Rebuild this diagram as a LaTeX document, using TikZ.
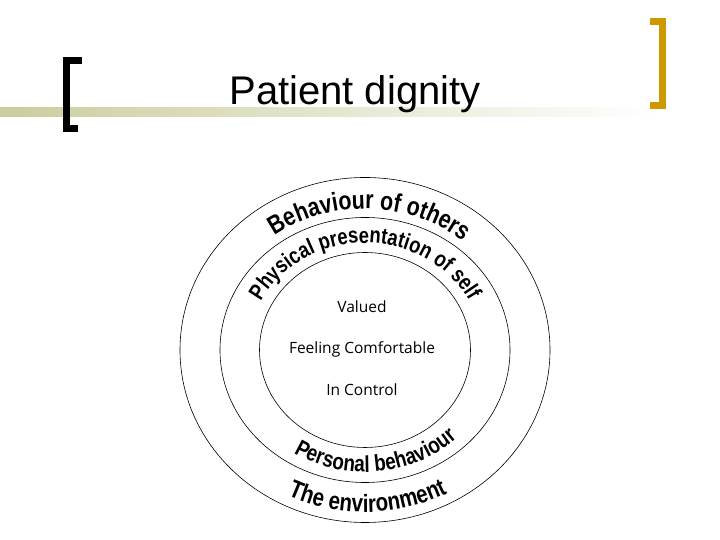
\documentclass[tikz,border=0pt]{standalone}
\usepackage{fontspec}
\setmainfont{Liberation Sans}
\newfontfamily\labelfont{Open Sans}
\newfontfamily\narrowfont[FakeStretch=0.82]{Liberation Sans}
\usetikzlibrary{shapes.geometric, positioning, decorations.text}

\definecolor{barkhaki}{RGB}{204,204,158}
\definecolor{bracketgold}{RGB}{204,153,0}

\newcommand\toparc{\narrowfont\bfseries\fontsize{26}{26}\selectfont}
\newcommand\midarc{\narrowfont\bfseries\fontsize{22.5}{22.5}\selectfont}
\newcommand\lowarc{\narrowfont\bfseries\fontsize{23}{23}\selectfont}
\newcommand\basearc{\narrowfont\bfseries\fontsize{25}{25}\selectfont}

\begin{document}
\begin{tikzpicture}[x=1pt, y=1pt,
        ring/.style={ellipse, draw, line width=0.6pt, inner sep=0pt},
        core/.style={font=\labelfont\fontsize{15.5}{15.5}\selectfont, text height=11pt, text depth=3pt, inner sep=2pt},
        arctext/.style={decorate, decoration={text along path, text align=center, text={#1}}}
    ]
    \useasboundingbox (0,0) rectangle (720,540);

    % Title bar and brackets
    \shade[left color=barkhaki, right color=white] (0,423) rectangle (660,432);
    \fill (63,408) rectangle (70,483);
    \fill (63,476) rectangle (82,483);
    \fill (63,408) rectangle (78,415);
    \fill[bracketgold] (659,431) rectangle (666,522);
    \fill[bracketgold] (650,515) rectangle (666,522);
    \fill[bracketgold] (650,431) rectangle (666,438);
    \node[font=\fontsize{40}{40}\selectfont, anchor=base] (title) at (355,435) {Patient dignity};

    % Rings
    \coordinate (ctr) at (365,190);
    \node[ring, minimum width=370pt, minimum height=345pt] (outer) at (ctr) {};
    \node[ring, minimum width=290pt, minimum height=265pt] (middle) at (ctr) {};
    \node[ring, minimum width=211pt, minimum height=195pt] (core) at (ctr) {};

    % Centre labels
    \node[core] (comfort) at (362,190) {Feeling Comfortable};
    \node[core, above=23pt of comfort] (valued) {Valued};
    \node[core, below=23pt of comfort] (control) {In Control};

    % Curved labels
    \path[arctext={|\toparc|Behaviour of others}] (ctr) ++(178:154pt and 141pt) arc[start angle=178, end angle=-2, x radius=154pt, y radius=141pt];
    \path[arctext={|\midarc|Physical presentation of self}] (ctr) ++(180:117pt and 107pt) arc[start angle=180, end angle=0, x radius=117pt, y radius=107pt];
    \path[arctext={|\lowarc|Personal behaviour}] (ctr) ++(186:133pt and 122pt) arc[start angle=186, end angle=366, x radius=133pt, y radius=122pt];
    \path[arctext={|\basearc|The environment}] (ctr) ++(181:176pt and 162pt) arc[start angle=181, end angle=361, x radius=176pt, y radius=162pt];

\end{tikzpicture}
\end{document}
